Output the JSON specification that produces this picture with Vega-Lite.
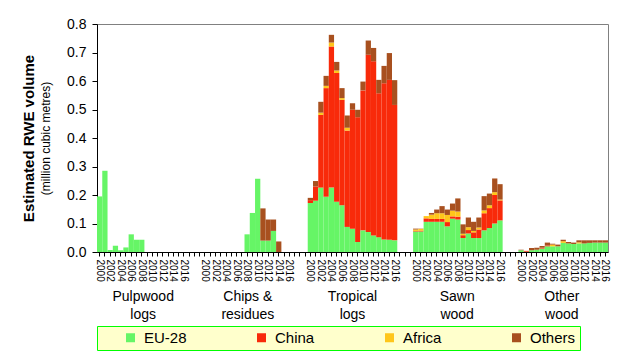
{
  "$schema": "https://vega.github.io/schema/vega-lite/v6.json",
  "width": 511,
  "height": 228,
  "autosize": {"type": "none"},
  "padding": {"left": 97, "top": 24, "right": 20, "bottom": 110},
  "config": {
    "font": "Liberation Sans",
    "view": {"stroke": "#808080", "strokeWidth": 1},
    "axis": {"grid": false, "labelColor": "black", "tickColor": "black", "domainColor": "black", "titleColor": "black"}
  },
  "resolve": {"scale": {"x": "independent", "y": "independent"}},
  "layer": [
    {
      "data": {"values": [
        {"g": "Pulpwood logs", "yr": 2000, "EU-28": 0.195, "China": 0, "Africa": 0, "Others": 0},
        {"g": "Pulpwood logs", "yr": 2001, "EU-28": 0.285, "China": 0, "Africa": 0, "Others": 0},
        {"g": "Pulpwood logs", "yr": 2002, "EU-28": 0.007, "China": 0, "Africa": 0, "Others": 0},
        {"g": "Pulpwood logs", "yr": 2003, "EU-28": 0.022, "China": 0, "Africa": 0, "Others": 0},
        {"g": "Pulpwood logs", "yr": 2004, "EU-28": 0.006, "China": 0, "Africa": 0, "Others": 0},
        {"g": "Pulpwood logs", "yr": 2005, "EU-28": 0.016, "China": 0, "Africa": 0, "Others": 0},
        {"g": "Pulpwood logs", "yr": 2006, "EU-28": 0.062, "China": 0, "Africa": 0, "Others": 0},
        {"g": "Pulpwood logs", "yr": 2007, "EU-28": 0.043, "China": 0, "Africa": 0, "Others": 0},
        {"g": "Pulpwood logs", "yr": 2008, "EU-28": 0.043, "China": 0, "Africa": 0, "Others": 0},
        {"g": "Chips & residues", "yr": 2008, "EU-28": 0.062, "China": 0, "Africa": 0, "Others": 0},
        {"g": "Chips & residues", "yr": 2009, "EU-28": 0.137, "China": 0, "Africa": 0, "Others": 0},
        {"g": "Chips & residues", "yr": 2010, "EU-28": 0.257, "China": 0, "Africa": 0, "Others": 0},
        {"g": "Chips & residues", "yr": 2011, "EU-28": 0.04, "China": 0, "Africa": 0, "Others": 0.113},
        {"g": "Chips & residues", "yr": 2012, "EU-28": 0.04, "China": 0, "Africa": 0, "Others": 0.074},
        {"g": "Chips & residues", "yr": 2013, "EU-28": 0.074, "China": 0, "Africa": 0, "Others": 0.04},
        {"g": "Chips & residues", "yr": 2014, "EU-28": 0, "China": 0, "Africa": 0, "Others": 0.037},
        {"g": "Tropical logs", "yr": 2000, "EU-28": 0.172, "China": 0.01, "Africa": 0, "Others": 0.008},
        {"g": "Tropical logs", "yr": 2001, "EU-28": 0.18, "China": 0.05, "Africa": 0, "Others": 0.019},
        {"g": "Tropical logs", "yr": 2002, "EU-28": 0.226, "China": 0.255, "Africa": 0.008, "Others": 0.038},
        {"g": "Tropical logs", "yr": 2003, "EU-28": 0.194, "China": 0.381, "Africa": 0.008, "Others": 0.035},
        {"g": "Tropical logs", "yr": 2004, "EU-28": 0.226, "China": 0.495, "Africa": 0.014, "Others": 0.027},
        {"g": "Tropical logs", "yr": 2005, "EU-28": 0.176, "China": 0.452, "Africa": 0.009, "Others": 0.03},
        {"g": "Tropical logs", "yr": 2006, "EU-28": 0.164, "China": 0.37, "Africa": 0.006, "Others": 0.035},
        {"g": "Tropical logs", "yr": 2007, "EU-28": 0.088, "China": 0.338, "Africa": 0.01, "Others": 0.043},
        {"g": "Tropical logs", "yr": 2008, "EU-28": 0.082, "China": 0.417, "Africa": 0, "Others": 0.023},
        {"g": "Tropical logs", "yr": 2009, "EU-28": 0.035, "China": 0.438, "Africa": 0, "Others": 0.026},
        {"g": "Tropical logs", "yr": 2010, "EU-28": 0.076, "China": 0.491, "Africa": 0, "Others": 0.031},
        {"g": "Tropical logs", "yr": 2011, "EU-28": 0.07, "China": 0.622, "Africa": 0, "Others": 0.05},
        {"g": "Tropical logs", "yr": 2012, "EU-28": 0.058, "China": 0.611, "Africa": 0, "Others": 0.047},
        {"g": "Tropical logs", "yr": 2013, "EU-28": 0.052, "China": 0.505, "Africa": 0, "Others": 0.047},
        {"g": "Tropical logs", "yr": 2014, "EU-28": 0.044, "China": 0.548, "Africa": 0, "Others": 0.061},
        {"g": "Tropical logs", "yr": 2015, "EU-28": 0.043, "China": 0.561, "Africa": 0, "Others": 0.094},
        {"g": "Tropical logs", "yr": 2016, "EU-28": 0.041, "China": 0.475, "Africa": 0, "Others": 0.087},
        {"g": "Sawn wood", "yr": 2000, "EU-28": 0.072, "China": 0.002, "Africa": 0.005, "Others": 0.003},
        {"g": "Sawn wood", "yr": 2001, "EU-28": 0.072, "China": 0.003, "Africa": 0.006, "Others": 0.001},
        {"g": "Sawn wood", "yr": 2002, "EU-28": 0.106, "China": 0.012, "Africa": 0.008, "Others": 0},
        {"g": "Sawn wood", "yr": 2003, "EU-28": 0.106, "China": 0.01, "Africa": 0.015, "Others": 0.006},
        {"g": "Sawn wood", "yr": 2004, "EU-28": 0.106, "China": 0.01, "Africa": 0.02, "Others": 0.013},
        {"g": "Sawn wood", "yr": 2005, "EU-28": 0.106, "China": 0.01, "Africa": 0.02, "Others": 0.025},
        {"g": "Sawn wood", "yr": 2006, "EU-28": 0.09, "China": 0.015, "Africa": 0.025, "Others": 0.019},
        {"g": "Sawn wood", "yr": 2007, "EU-28": 0.117, "China": 0.008, "Africa": 0.02, "Others": 0.025},
        {"g": "Sawn wood", "yr": 2008, "EU-28": 0.114, "China": 0.01, "Africa": 0.018, "Others": 0.046},
        {"g": "Sawn wood", "yr": 2009, "EU-28": 0.049, "China": 0.01, "Africa": 0.005, "Others": 0.033},
        {"g": "Sawn wood", "yr": 2010, "EU-28": 0.065, "China": 0.012, "Africa": 0.01, "Others": 0.034},
        {"g": "Sawn wood", "yr": 2011, "EU-28": 0.049, "China": 0.02, "Africa": 0.005, "Others": 0.032},
        {"g": "Sawn wood", "yr": 2012, "EU-28": 0.049, "China": 0.03, "Africa": 0.007, "Others": 0.035},
        {"g": "Sawn wood", "yr": 2013, "EU-28": 0.076, "China": 0.06, "Africa": 0.01, "Others": 0.05},
        {"g": "Sawn wood", "yr": 2014, "EU-28": 0.084, "China": 0.07, "Africa": 0.01, "Others": 0.041},
        {"g": "Sawn wood", "yr": 2015, "EU-28": 0.1, "China": 0.1, "Africa": 0.01, "Others": 0.048},
        {"g": "Sawn wood", "yr": 2016, "EU-28": 0.111, "China": 0.07, "Africa": 0.003, "Others": 0.054},
        {"g": "Other wood", "yr": 2000, "EU-28": 0.006, "China": 0, "Africa": 0, "Others": 0.002},
        {"g": "Other wood", "yr": 2001, "EU-28": 0.001, "China": 0.003, "Africa": 0, "Others": 0},
        {"g": "Other wood", "yr": 2002, "EU-28": 0.006, "China": 0, "Africa": 0, "Others": 0.008},
        {"g": "Other wood", "yr": 2003, "EU-28": 0.008, "China": 0, "Africa": 0, "Others": 0.007},
        {"g": "Other wood", "yr": 2004, "EU-28": 0.012, "China": 0.003, "Africa": 0, "Others": 0.006},
        {"g": "Other wood", "yr": 2005, "EU-28": 0.02, "China": 0.003, "Africa": 0, "Others": 0.01},
        {"g": "Other wood", "yr": 2006, "EU-28": 0.02, "China": 0, "Africa": 0.006, "Others": 0.003},
        {"g": "Other wood", "yr": 2007, "EU-28": 0.02, "China": 0, "Africa": 0, "Others": 0.006},
        {"g": "Other wood", "yr": 2008, "EU-28": 0.032, "China": 0, "Africa": 0.006, "Others": 0.005},
        {"g": "Other wood", "yr": 2009, "EU-28": 0.03, "China": 0, "Africa": 0, "Others": 0.005},
        {"g": "Other wood", "yr": 2010, "EU-28": 0.028, "China": 0, "Africa": 0, "Others": 0.005},
        {"g": "Other wood", "yr": 2011, "EU-28": 0.03, "China": 0, "Africa": 0.004, "Others": 0.007},
        {"g": "Other wood", "yr": 2012, "EU-28": 0.03, "China": 0, "Africa": 0, "Others": 0.011},
        {"g": "Other wood", "yr": 2013, "EU-28": 0.032, "China": 0, "Africa": 0, "Others": 0.009},
        {"g": "Other wood", "yr": 2014, "EU-28": 0.033, "China": 0, "Africa": 0, "Others": 0.008},
        {"g": "Other wood", "yr": 2015, "EU-28": 0.033, "China": 0, "Africa": 0, "Others": 0.008},
        {"g": "Other wood", "yr": 2016, "EU-28": 0.033, "China": 0, "Africa": 0, "Others": 0.008}
      ]},
      "transform": [
        {"fold": ["EU-28", "China", "Africa", "Others"], "as": ["region", "value"]},
        {"calculate": "substring(datum.g, 0, 2) + datum.yr", "as": "key"},
        {"calculate": "indexof(['EU-28', 'China', 'Africa', 'Others'], datum.region)", "as": "ord"}
      ],
      "mark": {"type": "bar"},
      "encoding": {
        "x": {
          "field": "key", "type": "nominal",
          "scale": {"type": "band", "paddingInner": 0, "paddingOuter": 0, "domain": [
            "Pu2000","Pu2001","Pu2002","Pu2003","Pu2004","Pu2005","Pu2006","Pu2007","Pu2008","Pu2009","Pu2010","Pu2011","Pu2012","Pu2013","Pu2014","Pu2015","Pu2016","b1","b2","b3",
            "Ch2000","Ch2001","Ch2002","Ch2003","Ch2004","Ch2005","Ch2006","Ch2007","Ch2008","Ch2009","Ch2010","Ch2011","Ch2012","Ch2013","Ch2014","Ch2015","Ch2016","b4","b5","b6",
            "Tr2000","Tr2001","Tr2002","Tr2003","Tr2004","Tr2005","Tr2006","Tr2007","Tr2008","Tr2009","Tr2010","Tr2011","Tr2012","Tr2013","Tr2014","Tr2015","Tr2016","b7","b8","b9",
            "Sa2000","Sa2001","Sa2002","Sa2003","Sa2004","Sa2005","Sa2006","Sa2007","Sa2008","Sa2009","Sa2010","Sa2011","Sa2012","Sa2013","Sa2014","Sa2015","Sa2016","b10","b11","b12",
            "Ot2000","Ot2001","Ot2002","Ot2003","Ot2004","Ot2005","Ot2006","Ot2007","Ot2008","Ot2009","Ot2010","Ot2011","Ot2012","Ot2013","Ot2014","Ot2015","Ot2016"
          ]},
          "axis": {
            "title": null, "orient": "bottom", "labelAngle": 90,
            "labelFontSize": 10, "labelPadding": 3, "tickSize": 4,
            "labelExpr": "length(datum.value) == 6 && toNumber(substring(datum.value, 2)) % 2 == 0 ? substring(datum.value, 2) : ''"
          }
        },
        "y": {
          "field": "value", "type": "quantitative", "stack": "zero",
          "scale": {"domain": [0, 0.8], "nice": false},
          "axis": {
            "title": "Estimated RWE volume", "titleFontSize": 15, "titleFontWeight": "bold", "titlePadding": 30,
            "values": [0, 0.1, 0.2, 0.3, 0.4, 0.5, 0.6, 0.7, 0.8], "format": ".1f",
            "labelFontSize": 14, "labelPadding": 6, "tickSize": 5
          }
        },
        "color": {
          "field": "region", "type": "nominal",
          "scale": {"domain": ["EU-28", "China", "Africa", "Others"], "range": ["#66F566", "#F82A0A", "#FFC61A", "#A8501F"]},
          "legend": {
            "title": null, "orient": "bottom", "direction": "horizontal", "offset": 5,
            "symbolType": "square", "symbolSize": 81,
            "labelFontSize": 15, "labelColor": "black",
            "fillColor": "#FFFFCC", "strokeColor": "#00FF00", "padding": 4,
            "columnPadding": 45, "symbolOffset": 22, "labelOffset": 6
          }
        },
        "order": {"field": "ord", "type": "quantitative"}
      }
    },
    {
      "data": {"values": [
        {"g": "Pulpwood logs"}, {"g": "Chips & residues"}, {"g": "Tropical logs"}, {"g": "Sawn wood"}, {"g": "Other wood"}
      ]},
      "mark": {"type": "rule", "opacity": 0},
      "encoding": {
        "x": {
          "field": "g", "type": "nominal",
          "scale": {"type": "band", "domain": ["Pulpwood logs", "Chips & residues", "Tropical logs", "Sawn wood", "Other wood"], "paddingInner": 0.1176, "paddingOuter": 0},
          "axis": {
            "orient": "bottom", "offset": 35, "title": null, "domain": false, "ticks": false,
            "labelPadding": 2, "labelFontSize": 14, "labelAngle": 0, "labelLineHeight": 18,
            "labelExpr": "datum.value == 'Chips & residues' ? ['Chips &', 'residues'] : split(datum.value, ' ')"
          }
        },
        "y": {
          "datum": 0, "type": "quantitative",
          "scale": {"domain": [0, 0.8], "nice": false},
          "axis": {
            "orient": "left", "title": "(million cubic metres)", "titleFontSize": 12, "titleFontWeight": "normal",
            "labels": false, "ticks": false, "domain": false, "titlePadding": 45
          }
        }
      }
    }
  ]
}
